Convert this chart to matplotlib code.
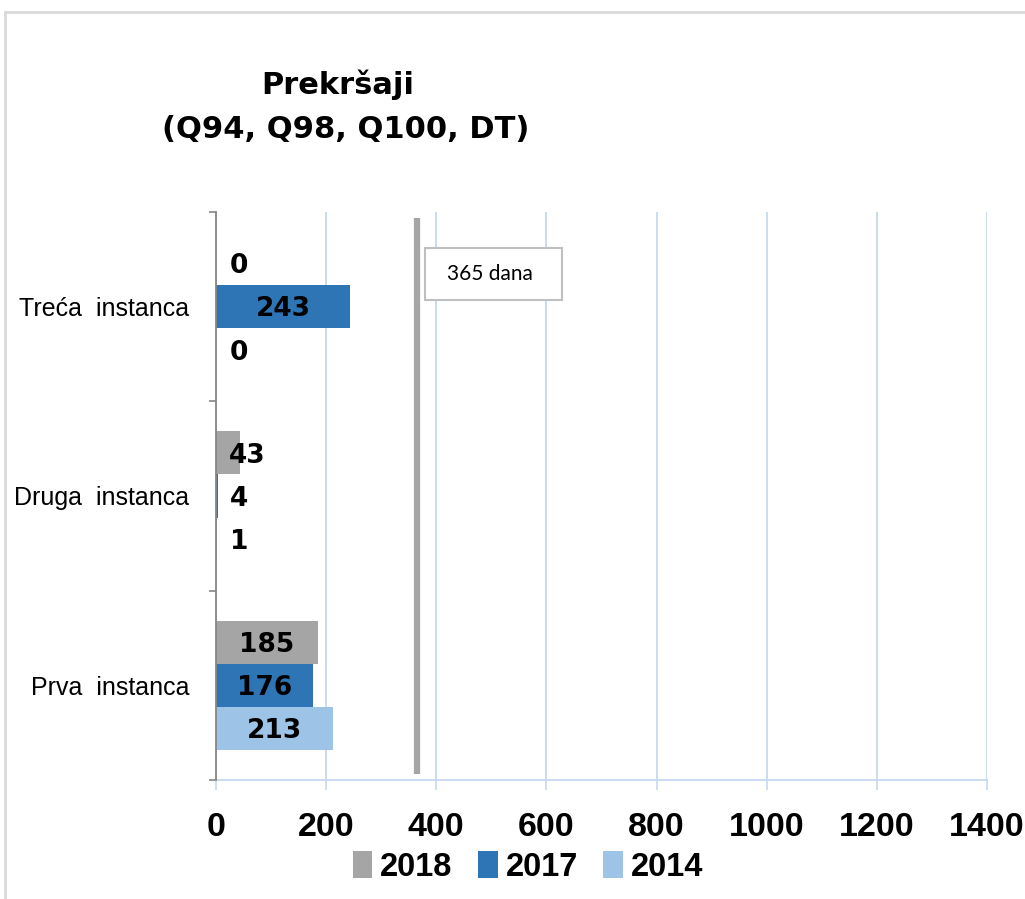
import matplotlib
matplotlib.use("Agg")
import matplotlib.pyplot as plt
import numpy as np
from matplotlib.patches import Rectangle
from matplotlib.lines import Line2D

# categories bottom -> top
categories = ["Prva  instanca", "Druga  instanca", "Treća  instanca"]
years = ["2018", "2017", "2014"]
values = {
    "2018": [185, 43, 0],
    "2017": [176, 4, 243],
    "2014": [213, 1, 0],
}
colors = {"2018": "#a5a5a5", "2017": "#2e75b6", "2014": "#9dc3e6"}
limit_days = 365
limit_label = "365 dana"
xticks = [0, 200, 400, 600, 800, 1000, 1200, 1400]

narrow = ["Liberation Sans Narrow", "Liberation Sans", "DejaVu Sans"]

fig = plt.figure(figsize=(10.25, 8.99), dpi=100)
ax = fig.add_axes([0.2107, 0.1324, 0.7522, 0.6318])

y = np.arange(len(categories))
bar_h = 0.2275
offsets = {"2018": bar_h, "2017": 0.0, "2014": -bar_h}

for yr in years:
    ax.barh(y + offsets[yr], values[yr], height=bar_h, color=colors[yr],
            label=yr, zorder=3)
    for yi, v in zip(y, values[yr]):
        xpos = v / 2 if v >= 100 else max(42, v + 13)
        ax.text(xpos, yi + offsets[yr] - 0.015, str(v), ha="center",
                va="center", fontsize=19, fontweight="bold",
                family="DejaVu Sans", color="black", zorder=5)

# 365-day reference line
ax.plot([limit_days, limit_days], [-0.47, 2.47], color="#a6a6a6", lw=4.5,
        solid_capstyle="butt", zorder=4)

ax.set_xlim(0, 1400)
ax.set_ylim(-0.5, 2.5)
ax.set_xticks(xticks)
ax.set_xticklabels([str(t) for t in xticks])
for lbl in ax.get_xticklabels():
    lbl.set_family(narrow)
    lbl.set_fontweight("bold")
    lbl.set_fontsize(24.5)
ax.tick_params(axis="x", length=7, width=1.2, color="#c6d9f1", pad=16)
ax.grid(axis="x", color="#c6d9f1", lw=1.3, zorder=0)

ax.set_yticks(y)
ax.set_yticklabels(categories)
for lbl in ax.get_yticklabels():
    lbl.set_family(["Liberation Sans", "DejaVu Sans"])
    lbl.set_fontsize(18)
ax.set_yticks([-0.5, 0.5, 1.5, 2.5], minor=True)
ax.tick_params(axis="y", which="major", length=0, pad=19)
ax.tick_params(axis="y", which="minor", length=5, width=1.2, color="#868686")

ax.spines["top"].set_visible(False)
ax.spines["right"].set_visible(False)
ax.spines["left"].set_color("#868686")
ax.spines["left"].set_linewidth(1.3)
ax.spines["left"].set_zorder(6)
ax.spines["bottom"].set_color("#c6d9f1")
ax.spines["bottom"].set_linewidth(1.3)

W, H = 1025, 899

# title, two lines
fig.text(338 / W, 1 - 85 / H, "Prekršaji", ha="center", va="center",
         fontsize=22, fontweight="bold", family="DejaVu Sans")
fig.text(346 / W, 1 - 130 / H, "(Q94, Q98, Q100, DT)", ha="center",
         va="center", fontsize=22, fontweight="bold", family="DejaVu Sans")

# annotation box for the limit line
fig.patches.append(Rectangle((425 / W, 1 - 300 / H), 137 / W, 52 / H,
                             transform=fig.transFigure, facecolor="white",
                             edgecolor="#bfbfbf", lw=1.5, zorder=5))
fig.text(490 / W, 1 - 274 / H, limit_label, ha="center", va="center",
         fontsize=15, family=["Lato", "DejaVu Sans"], zorder=6)

# outer chart border (top and left)
fig.add_artist(Line2D([4.5 / W, 4.5 / W], [0, 1 - 11.5 / H],
                      transform=fig.transFigure, color="#d9d9d9", lw=2))
fig.add_artist(Line2D([4.5 / W, 1], [1 - 11.5 / H, 1 - 11.5 / H],
                      transform=fig.transFigure, color="#d9d9d9", lw=2))

leg = fig.legend(loc="center", bbox_to_anchor=(528 / W, 1 - 867 / H), ncol=3,
                 frameon=False, handlelength=0.6, handleheight=0.9,
                 handletextpad=0.24, columnspacing=0.78,
                 prop={"family": narrow, "weight": "bold", "size": 23.5})

fig.savefig("out.png", dpi=100)
